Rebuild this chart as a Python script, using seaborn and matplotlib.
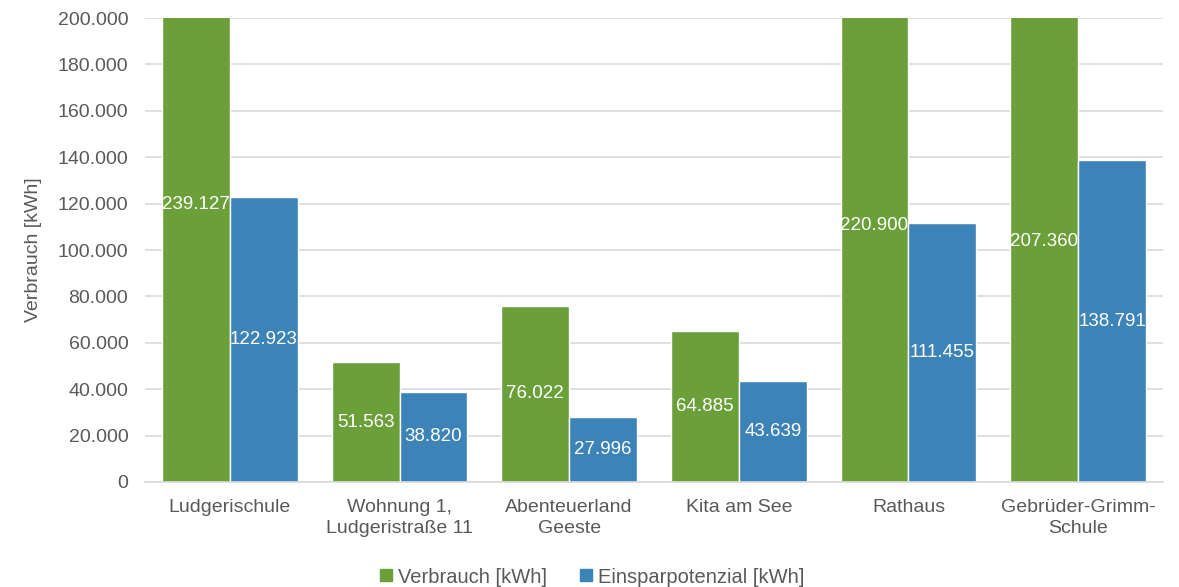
import matplotlib
matplotlib.use("Agg")
import matplotlib.pyplot as plt
from matplotlib.lines import Line2D
from matplotlib.ticker import FuncFormatter
import pandas as pd
import seaborn as sns

categories = ["Ludgerischule", "Wohnung 1,\nLudgeristraße 11", "Abenteuerland\nGeeste",
              "Kita am See", "Rathaus", "Gebrüder-Grimm-\nSchule"]
verbrauch = [239127, 51563, 76022, 64885, 220900, 207360]
einsparpotenzial = [122923, 38820, 27996, 43639, 111455, 138791]
series_names = ["Verbrauch [kWh]", "Einsparpotenzial [kWh]"]
y_ticks = [0, 20000, 40000, 60000, 80000, 100000, 120000, 140000, 160000, 180000, 200000]

colors = ["#6A9F3A", "#3C83B8"]
text_gray = "#595959"
grid_gray = "#D9D9D9"

df = pd.DataFrame({
    "Gebäude": categories * 2,
    "Wert": verbrauch + einsparpotenzial,
    "Reihe": [series_names[0]] * len(categories) + [series_names[1]] * len(categories),
})

sns.set_theme(style="white")
plt.rcParams["font.family"] = ["Liberation Sans", "DejaVu Sans"]

fig = plt.figure(figsize=(11.79, 5.87), dpi=100)
ax = fig.add_axes([0.123, 0.1789, 0.8634, 0.7904])

sns.barplot(data=df, x="Gebäude", y="Wert", hue="Reihe", palette=colors,
            width=0.8, ax=ax, legend=False, zorder=2, saturation=1)

ax.set_ylim(0, 200000)
ax.set_xlim(-0.5, len(categories) - 0.5)
ax.set_yticks(y_ticks)

def de_fmt(v, _pos=None):
    return f"{int(round(v)):,}".replace(",", ".")

ax.yaxis.set_major_formatter(FuncFormatter(de_fmt))
ax.grid(axis="y", color=grid_gray, linewidth=1.2, zorder=0)
ax.set_axisbelow(True)
for side in ["left", "right", "top"]:
    ax.spines[side].set_visible(False)
ax.spines["bottom"].set_color(grid_gray)
ax.spines["bottom"].set_linewidth(1.2)

ax.tick_params(axis="y", length=0, pad=12, labelsize=14, labelcolor=text_gray)
ax.tick_params(axis="x", length=0, pad=12, labelsize=14, labelcolor=text_gray)
for lbl in ax.get_xticklabels():
    lbl.set_linespacing(1.35)
ax.set_xlabel("")
ax.set_ylabel("Verbrauch [kWh]", fontsize=14, color=text_gray, labelpad=11)

# value labels centred in each bar (at half of the bar's value)
for container, values in zip(ax.containers, [verbrauch, einsparpotenzial]):
    for patch, v in zip(container.patches, values):
        ax.text(patch.get_x() + patch.get_width() / 2, v / 2, de_fmt(v),
                ha="center", va="center", color="white", fontsize=13.5, zorder=3)

handles = [Line2D([0], [0], marker="s", linestyle="", markersize=8,
                  markerfacecolor=c, markeredgecolor=c) for c in colors]
fig.legend(handles, series_names, loc="center", bbox_to_anchor=(0.502, 0.017),
           ncol=2, frameon=False, fontsize=14.5, labelcolor=text_gray,
           handletextpad=0.25, columnspacing=1.6, handlelength=0.7)

fig.savefig("out.png", dpi=100)
